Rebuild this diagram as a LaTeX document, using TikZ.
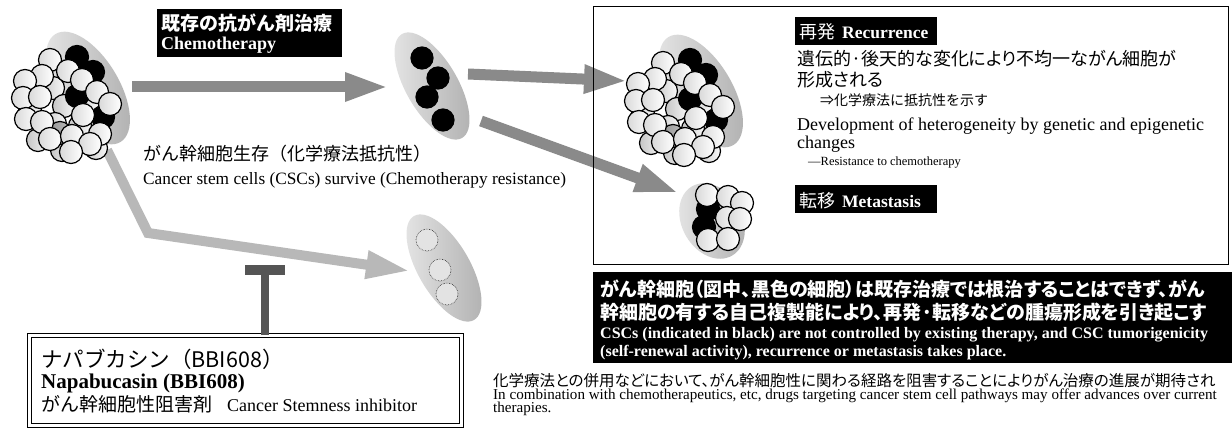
\documentclass[tikz,border=0pt]{standalone}
\usepackage{fontspec}
\setmainfont{Liberation Serif}
\newfontfamily\jp{Noto Sans CJK JP}
\newfontfamily\jpp{Noto Sans CJK JP}[RawFeature=+palt]
\usetikzlibrary{arrows.meta}

\definecolor{arrowgray}{HTML}{8A8A8A}
\definecolor{lightarrow}{HTML}{B8B8B8}
\definecolor{bargray}{HTML}{555555}

\newcommand{\setpx}[1]{\fontsize{#1pt}{#1pt}\selectfont}

% a tumour: grey bed, shaded back cells, black stem cells, white front cells
\newcommand{\tumorcells}{%
  \shade[bed, rotate around={-59:(88,88)}] (88,88) ellipse [x radius=63pt, y radius=31pt];
  \foreach \cxy in {(53,88),(64,106),(30,108),(88,104),(55,124),(80,126),(38,140),(96,148),(62,150)}
    \draw[backcell] \cxy circle [radius=11.5pt];
  \foreach \cxy in {(77,57),(93,72),(77,96),(103,117)}
    \draw[stemcell] \cxy circle [radius=11.5pt];
  \draw[oddcell] (60,133) circle [radius=11.5pt];
  \foreach \cxy in {(50,60),(68,71),(42,76),(25,81),(82,80),(23,98),(40,97),(97,92),(110,104),(83,115),(26,119),(42,122),(50,139),(72,136),(100,134),(90,144),(71,152)}
    \draw[cell] \cxy circle [radius=11.5pt];
}

\begin{document}
\begin{tikzpicture}[x=1pt,y=-1pt,
  cell/.style={draw=black, line width=1.2pt, left color=gray!30, right color=white},
  backcell/.style={draw=black, line width=1.2pt, left color=gray!45, right color=gray!5},
  stemcell/.style={draw=black, line width=1.2pt, fill=black},
  oddcell/.style={draw=black, line width=1.2pt, left color=gray!85, right color=gray!50},
  ghostcell/.style={draw=black!85, line width=0.6pt, densely dotted, fill=gray!22},
  bed/.style={left color=gray!20, right color=gray!62},
  tag/.style={fill=black, inner sep=0pt, anchor=north west},
  wtext/.style={text=white, inner sep=0pt, anchor=base west},
  btext/.style={text=black, inner sep=0pt, anchor=base west},
  flow/.style={draw=arrowgray, line width=11pt, -{Triangle[length=44pt,width=26pt]}},
  sideflow/.style={draw=lightarrow, line width=10pt, line join=miter, -{Triangle[length=44pt,width=26pt]}},
  tstem/.style={draw=bargray, line width=7.5pt},
  tbarline/.style={draw=bargray, line width=10pt},
]
\useasboundingbox (0,0) rectangle (1232,428);
\fill[white] (0,0) rectangle (1232,428);

% ---------- arrows between the stages ----------
\coordinate (chemoA) at (132,87);   \coordinate (chemoB) at (389,87);
\coordinate (relapseA) at (468,74); \coordinate (relapseB) at (628,81);
\coordinate (spreadA) at (481,121); \coordinate (spreadB) at (679,193);
\coordinate (comboA) at (107,150);  \coordinate (comboBend) at (148,233);
\coordinate (comboB) at (410,271);
\draw[flow] (chemoA) -- (chemoB);
\draw[flow] (relapseA) -- (relapseB);
\draw[flow] (spreadA) -- (spreadB);
\draw[sideflow] (comboA) -- (comboBend) -- (comboB);

% ---------- primary tumour ----------
\tumorcells

% ---------- surviving stem cells ----------
\shade[bed, rotate around={-60:(432,86)}] (432,86) ellipse [x radius=60pt, y radius=26pt];
\foreach \cxy in {(422,58),(438,78),(427,97),(443,120)}
  \draw[stemcell] \cxy circle [radius=11pt];

% ---------- stem cells blocked by the inhibitor ----------
\shade[bed, rotate around={-60:(444,268)}] (444,268) ellipse [x radius=60pt, y radius=26pt];
\foreach \cxy in {(427,240),(440,270),(447,294)}
  \draw[ghostcell] \cxy circle [radius=11pt];

% ---------- chemotherapy label ----------
\node[tag, minimum width=185pt, minimum height=48pt] (chemotag) at (157,9) {};
\node[wtext, font=\jp\bfseries\setpx{19}] (chemojp) at (161,31) {既存の抗がん剤治療};
\node[wtext, font=\bfseries\setpx{18}] (chemoen) at (161,50) {Chemotherapy};

\node[btext, font=\jp\setpx{18}] (survjp) at (143,160) {がん幹細胞生存（化学療法抵抗性）};
\node[btext, font=\setpx{17.3}] (surven) at (143,184) {Cancer stem cells (CSCs) survive (Chemotherapy resistance)};

% ---------- outcome panel ----------
\node[draw, line width=1.3pt, minimum width=635pt, minimum height=258pt, anchor=north west, inner sep=0pt] (outcomebox) at (593,6) {};

\begin{scope}[shift={(613,3)}]
  \tumorcells
\end{scope}

\shade[bed, rotate around={-60:(712,221)}] (712,221) ellipse [x radius=40pt, y radius=30pt];
\foreach \cxy in {(708,209),(704,227)}
  \draw[stemcell] \cxy circle [radius=11.5pt];
\foreach \cxy in {(707,195),(728,197),(742,203),(727,218),(740,219),(708,240),(728,239)}
  \draw[cell] \cxy circle [radius=11.5pt];

\node[tag, minimum width=142pt, minimum height=28pt] (relapsetag) at (795,17) {};
\node[wtext, font=\jp\setpx{18}] (relapsejp) at (799,39) {再発};
\node[wtext, font=\bfseries\setpx{17.5}] (relapseen) at (842,39) {Recurrence};

\node[btext, font=\jpp\setpx{18}] (hetjp1) at (797,66) {遺伝的·後天的な変化により不均一ながん細胞が};
\node[btext, font=\jpp\setpx{18}] (hetjp2) at (797,86) {形成される};
\node[btext, font=\jp\setpx{14}] (hetjp3) at (820,106) {⇒化学療法に抵抗性を示す};
\node[btext, font=\setpx{18}] (heten1) at (797,130) {Development of heterogeneity by genetic and epigenetic};
\node[btext, font=\setpx{18}] (heten2) at (797,148) {changes};
\node[btext, font=\setpx{12.5}] (heten3) at (808,165) {—Resistance to chemotherapy};

\node[tag, minimum width=142pt, minimum height=28pt] (spreadtag) at (795,185) {};
\node[wtext, font=\jp\setpx{18}] (spreadjp) at (799,207) {転移};
\node[wtext, font=\bfseries\setpx{17.5}] (spreaden) at (842,207) {Metastasis};

% ---------- summary caption ----------
\node[tag, minimum width=639pt, minimum height=91pt] (captiontag) at (593,272) {};
\node[wtext, font=\jpp\bfseries\setpx{19}] (capjp1) at (600,296) {がん幹細胞（図中、黒色の細胞）は既存治療では根治することはできず、がん};
\node[wtext, font=\jpp\bfseries\setpx{19}] (capjp2) at (600,319) {幹細胞の有する自己複製能により、再発·転移などの腫瘍形成を引き起こす};
\node[wtext, font=\bfseries\setpx{16}] (capen1) at (600,338) {CSCs (indicated in black) are not controlled by existing therapy, and CSC tumorigenicity};
\node[wtext, font=\bfseries\setpx{16}] (capen2) at (600,356) {(self-renewal activity), recurrence or metastasis takes place.};

\node[btext, font=\jpp\setpx{15.5}] (notejp) at (493,386) {化学療法との併用などにおいて、がん幹細胞性に関わる経路を阻害することによりがん治療の進展が期待され};
\node[btext, font=\setpx{15.1}] (noteen1) at (493,399) {In combination with chemotherapeutics, etc, drugs targeting cancer stem cell pathways may offer advances over current};
\node[btext, font=\setpx{15.1}] (noteen2) at (493,412) {therapies.};

% ---------- inhibitor ----------
\node[draw, double, double distance=2.2pt, line width=1pt, minimum width=432pt, minimum height=90pt, anchor=north west, inner sep=0pt] (napabox) at (29,335) {};
\coordinate (tbar) at (265,270);
\draw[tstem] (napabox.north -| tbar) -- (tbar);
\draw[tbarline] ([xshift=-20pt]tbar) -- ([xshift=20pt]tbar);

\node[btext, font=\jp\setpx{21.5}] (napajp) at (41,367) {ナパブカシン（BBI608）};
\node[btext, font=\bfseries\setpx{21}] (napaen) at (41,388) {Napabucasin (BBI608)};
\node[btext, font=\jp\setpx{19}] (napause) at (41,411) {がん幹細胞性阻害剤};
\node[btext, font=\setpx{18}] (napauseen) at (227,411) {Cancer Stemness inhibitor};
\end{tikzpicture}
\end{document}
